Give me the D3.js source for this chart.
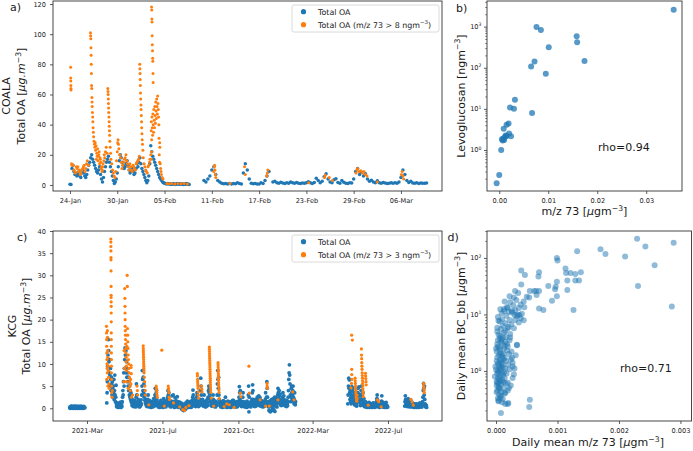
<!DOCTYPE html>
<html><head><meta charset="utf-8">
<script src="https://cdn.jsdelivr.net/npm/d3@7/dist/d3.min.js"></script>
<style>body{margin:0;background:#fff}svg{display:block}</style>
</head><body><svg id="chart" width="693" height="451"></svg>
<script>
// ---------------- DATA ----------------
// Panel a (COALA): Total OA, segments with start time and step (hours)
const coalaOA1 = [ // from 2020-01-24 00:00, every 3 h
0.5,0.3,11,13,9,7,8,6, 7,9,6,5,8,10,8,6, 5,7,10,13,15,18,20,17, 15,13,11,9,8,10,12,7,
4,2,5,9,12,15,17,19, 15,12,9,6,3,1,2,4, 8,12,16,20,18,15,13,11, 12,14,16,13,10,8,9,11,
9,7,8,11,14,12,15,18, 14,11,9,7,5,3,1.5,3, 6,14,26,22,19,17,15,13, 11,9,7,5,4,3,2,1.5,
1.2,0.9,0.7,1.0,0.6,0.8,0.5,0.7, 0.4,0.8,0.6,0.3,0.7,0.9,0.5,0.6, 0.8,0.4,0.6,0.3,0.7,0.5,0.9,0.4, 0.6,0.3];
const coalaOA2 = [ // from 2020-02-10 00:00, every 6 h
3,2,4,6, 10,12,7,3, 2,1.2,0.8,1, 0.7,0.9,0.6,1, 0.8,1.5,0.9,0.7, 8,14,10,4, 1.2,0.8,1,0.7, 0.6,1.5,0.9,3, 6,9];
const coalaOA3 = [ // from 2020-02-18 18:00, every 6 h
2, 2.5,1.5,1.2,1.8, 1.3,1.0,1.5,1.2, 2.0,1.4,1.1,1.6, 1.2,0.9,1.3,1.1, 1.5,2.2,1.4,1.0,
1.6,4.5,3.0,1.5, 2.5,5.5,7.5,4.0, 2.0,1.4,3.5,4.2, 1.6,1.2,3.0,1.8, 1.2,1.0,1.5,1.3,
4.0,9.0,11.0,7.0, 8.5,6.0,7.5,4.0, 2.5,3.2,2.0,1.5, 2.8,1.4,1.2,1.6, 1.3,1.0,1.2,1.4,
1.1,1.5,1.2,2.0, 5.0,10.0,7.0,3.0, 1.6,2.5,1.3,1.1, 1.4,1.0,1.3,1.2, 1.1,1.3];
const coalaBase = "2020-01-24";
// [days after 2020-01-24, Total OA] where m/z 73 > 8 ngm-3
const coalaHigh = [
[0.08,78],[0.09,71],[0.1,69],[0.11,66],[0.12,64],[0.13,63],[0.2,14],[0.25,13],
[0.4,13],[0.5,10],[0.6,9],[0.7,8],[0.8,12],[0.9,11],[1.0,12],[1.1,9],[1.2,10],[1.3,7],[1.4,8],[1.5,10],[1.6,11],[1.7,12],[1.8,13],[1.9,9],[2.0,11],[2.1,14],[2.2,16],[2.35,13],
[2.6,101],[2.62,99],[2.64,97],[2.66,91],[2.68,86],[2.7,80],[2.72,74],[2.74,66],[2.76,64],[2.78,58],[2.8,55],[2.82,52],[2.85,48],[2.88,45],[2.9,42],[2.93,38],[2.96,35],[3.0,32],[3.05,29],[3.1,27],[3.15,25],[3.2,28],[3.25,23],[3.3,26],[3.35,17],[3.4,21],[3.45,19],[3.5,24],[3.55,16],[3.6,19],[3.65,20],[3.7,22],[3.75,14],[3.8,18],[3.85,17],[3.9,15],[3.95,11],[4.0,12],[4.05,9],[4.1,10],[4.15,12],[4.2,14],
[4.3,16],[4.35,20],[4.4,18],[4.5,22],[4.6,25],[4.7,21],
[4.8,64],[4.82,62],[4.84,60],[4.86,57],[4.88,54],[4.9,51],[4.92,48],[4.94,45],[4.96,42],[4.98,39],[5.0,36],[5.03,33],[5.06,29],[5.1,25],[5.15,21],[5.2,17],[5.3,14],[5.4,10],[5.5,8],[5.6,6],[5.7,5],[5.8,9],
[5.9,16],[6.0,22],[6.05,28],[6.1,30],[6.15,27],[6.2,24],[6.3,20],[6.4,18],[6.5,15],
[6.6,11],[6.7,13],[6.8,15],[6.9,17],[7.0,18],[7.1,20],[7.2,16],[7.3,14],[7.4,12],[7.5,10],[7.6,14],[7.7,12],[7.8,10],[7.9,9],[8.0,13],[8.1,12],[8.2,11],[8.3,10],[8.4,14],[8.5,15],[8.6,16],[8.7,17],[8.8,19],
[8.85,80],[8.87,77],[8.89,74],[8.91,70],[8.93,66],[8.95,61],[8.97,57],[9.0,53],[9.02,50],[9.05,46],[9.08,42],[9.1,38],[9.13,34],[9.16,30],[9.2,27],[9.25,23],[9.3,18],[9.4,14],[9.5,12],
[9.6,10],[9.7,9],[9.8,8],[9.9,12],[10.0,13],[10.1,15],[10.15,17],
[10.25,20],[10.28,17],[10.3,36],[10.32,42],[10.34,22],[10.35,118],[10.36,30],[10.37,116],[10.39,110],[10.4,45],[10.41,108],[10.43,99],[10.44,38],[10.45,93],[10.47,89],[10.48,33],[10.49,84],[10.51,82],[10.52,47],[10.53,74],[10.55,68],[10.56,40],[10.6,35],[10.64,50],[10.68,43],[10.72,38],[10.76,52],[10.8,46],[10.84,41],[10.88,55],[10.92,49],[10.96,44],[11.0,57],[11.04,52],[11.08,47],[11.12,59],[11.16,54],[11.2,50],[11.24,45],[11.28,40],[11.3,31],[11.33,20],[11.36,15],[11.38,28],[11.4,25],
[11.45,14],[11.5,11],[11.55,9],[11.6,7],[11.7,5],[11.8,4],
[12.3,1],[12.6,0.8],[12.9,1],[13.3,0.7],[13.7,0.9],[14.1,0.8],[14.5,1],[14.9,0.7],
[18.25,9],[18.3,12],[18.35,13],[18.4,10],[18.45,7],[18.5,5],[20.3,1],[22.15,12],[22.25,7],[24.95,6],[25.05,8],[25.1,10],[30.3,1.5],[32.3,5],[32.4,6.5],[32.9,5],[33.3,3],
[36.3,8],[36.4,10],[36.5,11],[36.7,9],[36.9,9.5],[37.1,8],[37.3,9],[37.5,7],[37.7,6],[39.0,2],[42.05,7],[42.15,9],[42.25,6],[42.35,4]];
const coalaTicks = ["2020-01-24","2020-01-30","2020-02-05","2020-02-11","2020-02-17","2020-02-23","2020-02-29","2020-03-06"];

// Panel b: m/z 73 vs levoglucosan
const levoM73 = [-0.00053,0.0,0.0004,0.00055,0.0008,0.001,0.0012,0.0015,0.0009,0.0015,0.0019,0.002,0.0024,0.0022,0.003,0.0032,0.0067,0.0065,0.0072,0.0095,0.0076,0.0085,0.0101,0.0158,0.0159,0.0174,0.0356,0.0007,0.0013];
const levoglucosan = [0.155,0.245,1.0,1.82,1.89,1.75,2.1,2.2,3.3,4.1,4.4,2.5,2.15,10.8,10,16.6,7.9,107,142,71,980,830,314,580,415,146,2570,1.69,2.25];

// Panel c (KCG): Total OA, every 12 h
const kcgOA1 = [ // from 2021-02-01
0.1,0.3,0.0,0.2,0.4,0.1,0.5,0.2,0.0,0.3, 0.1,0.4,0.2,0.0,0.3,0.5,0.1,0.2,0.4,0.0,
0.2,0.3,0.1,0.5,0.2,0.0,0.3,0.1,0.4,0.2, 0.1,0.3,0.0,0.2,0.5,0.1,0.3,0.2,0.0,0.4,
0.1,0.2,0.3,0.0,0.2,0.4,0.1,0.3,0.2,0.1];
const kcgOA2 = [ // from 2021-04-02
1.2,3.5,6.0,9.5,12.0,15.5,13.0,10.5,8.0,11.0, 7.5,5.0,9.0,6.5,4.0,7.0,5.5,3.0,6.0,4.5,
2.5,5.0,3.5,6.5,2.0,4.0,7.5,3.0,1.5,2.5, 5.2,1.0,0.4,0.8,0.3,1.2,0.5,0.9,0.2,0.7,
0.4,1.1,0.3,0.6,1.4,0.5,0.2,0.8,1.0,0.4, 1.5,2.5,4.0,3.0,6.0,8.0,5.0,9.0,11.0,13.6,
12.0,9.0,13.0,8.0,10.5,7.0,9.0,6.0,8.0,5.0, 7.0,4.0,6.0,3.0,5.0,2.5,4.0,2.0,3.5,1.5,
3.0,1.2,0.6,2.0,0.8,1.5,0.4,1.0,0.7,1.3, 0.5,1.8,0.9,0.3,1.1,2.5,5.5,3.0,1.2,0.6,
1.4,0.8,2.0,0.5,1.0,0.3,1.6,0.9,0.4,1.2, 0.7,1.9,1.0,3.0,5.0,8.5,6.5,4.0,7.0,3.5,
5.5,2.5,4.0,1.8,3.0,1.2,2.0,0.8,1.5,0.5, 1.0,0.4,1.3,2.0,3.0,1.1,0.6,1.4,0.3,0.9,
1.7,0.5,1.0,0.2,1.2,0.7,0.4,1.5,0.9,0.3, 1.1,0.6,2.2,1.0,0.5,1.6,3.0,4.5,2.5,1.2,
3.5,4.0,2.0,0.8,1.4,0.5,1.0,0.3,0.8,1.2, 0.6,0.2,1.5,0.4,0.9,1.8,0.5,1.1,0.7,0.3,
1.3,0.6,0.2,1.0,2.2,0.8,0.4,1.6,0.9,0.5, 1.2,0.3,0.8,1.5,0.6,1.9,1.0,2.5,4.0,3.0,
2.0,3.5,1.2,0.6,1.4,0.4,1.0,0.8,0.3,1.6, 0.7,2.8,1.2,0.5,1.0,3.0,1.5,0.6,1.1,0.2,
0.9,2.4,1.3,0.5,1.7,0.8,0.3,1.2,2.6,1.0, 0.4,1.5,0.8,0.2,1.1,0.6,1.4,0.3,0.9,0.5,
1.2,0.1,0.7,-0.2,0.4,1.0,-0.4,0.3,0.8,-0.5, 0.2,-0.3,0.6,0.1,1.0,-0.2,0.5,1.3,0.3,0.8,
0.5,1.6,0.4,1.0,0.2,1.3,0.7,0.3,1.1,0.6, 1.5,0.4,0.9,0.2,1.2,0.6,1.8,0.5,2.5,4.1,
3.0,1.5,2.0,0.8,1.2,0.5,1.6,0.9,0.4,1.0, 1.8,2.5,3.5,3.0,1.5,0.7,1.2,0.4,0.9,1.5,
0.6,1.0,2.0,4.0,6.8,5.0,3.0,1.6,0.8,1.2, 2.0,0.9,0.5,1.4,0.7,3.0,1.5,0.6,1.1,0.3,
0.9,1.6,0.4,1.2,0.7,2.0,1.3,0.6,2.5,4.0, 5.0,3.5,4.5,2.5,3.0,1.5,2.0,0.8,1.4,0.5,
1.0,1.8,0.6,1.2,3.0,2.0,0.9,1.4,0.4,1.1, 0.7,1.6,0.3,1.0,1.5,0.6,1.2,3.0,5.5,8.5,
6.5,4.5,7.0,3.0,2.0,1.2,0.6,1.5,0.8,0.3, 1.1,0.5,1.4,0.9,0.2,1.2,0.6,1.7,0.4,1.0,
0.7,1.5,0.3,0.9,2.5,1.2,0.5,1.3,0.8,0.2, 1.0,0.6,1.6,0.4,1.2,0.7,0.3,1.4,0.9,0.5,
1.3,0.2,0.8,1.5,0.6,1.1,0.4,1.8,0.9,0.5, 1.8,1.2,0.6,1.0,0.3,1.4,0.8,0.5,1.2,0.7,
0.3,1.5,0.9,0.4,1.1,0.6,1.6,0.8,2.5,4.9, 3.5,2.0,4.0,1.5,0.9,1.3,0.4,1.0,0.7,1.5,
2.5,3.5,1.5,0.8,0.4,1.2,0.6,1.0,0.3,1.4, 0.8,0.5,1.1,0.2,1.6,0.7,1.0,0.4,3.0,5.0,
-0.8,2.5,1.2,0.6,1.4,0.9,0.3,1.1,0.7,1.6, 2.0,3.5,5.3,4.0,2.0,1.0,0.5,1.3,0.8,0.4,
1.2,0.7,1.9,0.5,1.0,2.0,1.4,2.5,0.8,1.6, 2.2,1.0,2.8,1.5,0.6,1.8,2.4,1.1,0.5,1.3,
0.9,1.7,0.4,1.2,0.7,1.5,0.3,1.0,0.6,1.4, 0.8,1.3,0.5,2.0,3.5,1.5,0.9,2.5,6.0,4.5,
2.5,1.2,0.6,1.5,0.3,-0.5,1.0,0.4,1.6,-0.8, 0.5,1.8,-0.6,1.2,2.0,0.2,1.5,-0.4,0.8,2.2,
-0.3,1.4,0.6,2.5,-0.7,1.0,1.8,0.4,2.4,0.9, 1.5,0.3,2.0,3.0,4.5,3.5,2.2,1.2,4.0,2.8,
1.6,3.2,0.8,1.4,2.0,0.6,1.2,0.9,1.7,2.5, 3.5,2.0,1.0,2.8,1.4,0.7,1.9,1.1,0.5,1.5,
0.8,1.2,0.4,1.8,1.0,0.6,1.5,2.5,4.0,6.5, 8.0,9.8,7.5,5.5,3.0,1.5,2.5,4.5,5.0,3.5,
2.0,3.0,4.0,5.0,2.5,1.5,1.0,2.0,3.5,1.2,0.8,1.5];
const kcgOA3 = [ // from 2022-04-27
1.0,3.0,5.0,6.8,4.5,6.4,3.5,2.0,4.0,1.5,2.5,1.0,
3.0,4.9,2.5,3.8,1.5,4.5,2.0,3.0,1.2,2.5,0.8,1.8,3.5,1.0,0.6,2.2,
1.0,0.5,1.5,2.5,3.5,4.5,3.0,2.0,4.8,3.2,1.5,2.8,1.0,0.6,
2.0,4.0,5.0,3.0,1.8,2.6,1.0,3.5,1.4,0.6,2.2,1.2,0.4,1.0,
0.6,1.5,0.3,0.8,1.2,0.4,0.9,0.2,1.1,0.5,0.3,0.8,0.5,1.3,0.2,0.7,1.0,0.4,0.6,0.3,
0.9,0.2,0.6,1.1,0.4,0.7,0.3,1.2,0.5,0.8,0.2,0.6,1.0,0.4,0.7,0.3,0.9,1.5,2.2,3.0,
2.0,1.2,0.6,1.0,0.3,0.8,0.5,0.2,0.7,0.4,1.1,0.3,0.6,1.6,2.8,1.5,0.8,0.4,0.9,0.3,
0.6,1.2,0.5,0.2,0.9,0.4,0.7,0.3,1.3,0.5,0.2,0.6,0.4,0.3];
const kcgOA4 = [ // from 2022-07-28
0.5,1.5,2.8,2.0,1.0,0.6,1.8,0.9,0.4,1.2,0.7,2.2,
1.0,0.5,1.6,0.8,0.3,1.2,0.6,1.9,0.4,1.0,0.7,1.4,0.3,0.8,0.5,1.1,
0.4,0.9,0.2,0.7,1.0,0.3,0.6,0.9,0.4,0.7,0.2,1.0,0.5,0.3,0.8,0.4,
0.6,0.2,0.9,0.4,0.7,1.2,0.5,0.3,0.8,0.4,0.6,1.0,0.3,0.7,1.5,2.5,
4.0,5.6,4.5,3.0,5.0,2.0,1.0,0.4,0.8,0.3,0.6,0.2];
const kcgBase = "2021-03-01";
// [days after 2021-03-01, Total OA] where m/z 73 > 3 ngm-3
const kcgHigh = [
[31.5,18.5],[31.6,17.0],[31.7,15.5],[31.8,14.0],[31.9,6.5],[32.0,12.5],[32.2,11.0],[32.4,10.0],[32.6,9.0],[32.8,8.0],[33.0,17.5],[33.2,16.0],[33.4,13.0],[33.6,11.5],[33.8,5.0],[34.0,9.5],[34.5,8.5],[35.0,7.0],[35.5,5.5],[36.0,4.5],
[38.6,38.2],[38.65,37.5],[38.7,36.5],[38.75,35.5],[38.8,34.0],[38.85,33.5],[38.9,31.0],[38.95,27.5],[39.0,25.5],[39.05,25.0],[39.1,24.0],[39.15,23.0],[39.2,21.5],[39.25,19.5],[39.3,17.0],[39.35,15.5],[39.4,14.0],[39.45,12.5],[39.5,11.0],[39.55,9.5],[39.6,8.0],[39.7,6.5],[39.8,5.0],[40.0,3.5],[40.5,2.5],[41.0,4.0],
[59.5,6.0],[60.0,13.0],[60.5,9.0],[61.0,27.0],[61.3,24.8],[61.5,23.0],[61.6,21.5],[61.7,20.0],[61.8,18.5],[62.0,17.5],[62.2,16.5],[62.4,15.5],[62.6,14.5],[62.8,13.5],[63.0,12.5],[63.2,11.5],[63.4,10.5],[63.6,9.5],[63.8,6.0],[64.0,8.5],[64.5,14.0],[65.0,30.0],[65.3,27.5],[65.5,18.0],[65.8,16.5],[66.0,15.0],[66.3,13.5],[66.6,12.0],[66.8,4.5],[67.0,11.0],[67.4,10.0],[67.8,9.0],[68.2,8.0],[68.6,7.0],[69.0,6.0],[69.5,5.0],[70.0,4.0],[70.5,6.5],[71.0,5.5],[71.2,9.7],[71.3,9.2],[71.6,7.8],[72.0,2.5],[73.8,3.0],
[81.0,5.0],[81.5,4.0],[82.0,3.0],
[91.0,14.1],[91.1,13.5],[91.2,13.0],[91.3,12.5],[91.4,12.0],[91.5,11.5],[91.6,11.0],[91.7,10.5],[91.8,10.0],[91.9,9.5],[92.0,9.0],[92.2,8.5],[92.4,8.0],[92.8,7.0],[93.2,6.0],[93.6,5.0],[94.0,4.0],[94.5,3.0],
[100.0,0.8],[112.0,5.0],[112.3,4.5],[112.6,4.0],[113.0,3.5],[113.4,3.0],[113.8,2.5],[121.0,13.1],[125.0,0.5],[131.5,5.0],[131.8,4.5],[132.1,4.0],[132.5,3.5],[133.0,2.5],[133.5,2.0],[140.0,1.2],[150.0,0.3],[155.0,-0.3],[158.0,-0.5],[160.0,0.2],[165.0,0.6],
[178.5,7.8],[178.7,7.3],[178.9,6.5],[179.1,6.0],[179.3,5.5],[179.5,5.0],[179.7,4.5],[179.9,3.7],[180.2,3.0],[180.5,2.3],[185.5,5.0],[185.8,4.3],[186.1,3.7],
[198.0,13.8],[198.1,13.3],[198.2,12.8],[198.3,12.3],[198.4,11.8],[198.5,11.3],[198.6,10.8],[198.7,10.3],[198.8,9.8],[198.9,9.3],[199.0,8.8],[199.1,8.3],[199.2,7.8],[199.3,7.3],[199.4,6.8],[199.5,6.3],[199.6,5.8],[199.7,5.3],[199.8,4.8],[200.0,4.2],[200.2,3.6],[201.0,2.3],[205.0,0.5],
[212.0,10.3],[212.1,9.8],[212.2,9.3],[212.3,8.8],[212.4,8.3],[212.5,7.8],[212.6,7.3],[212.7,6.8],[212.8,6.3],[212.9,5.8],[213.0,5.3],[213.2,4.8],[213.4,4.2],[213.6,3.6],[214.0,2.2],
[222.0,0.4],[226.0,1.0],[230.0,0.8],[238.0,0.2],[248.0,3.4],[249.0,2.6],[262.0,9.5],[262.5,3.4],[280.0,1.9],[289.0,0.5],[291.2,5.6],[291.5,5.0],[291.8,4.5],[295.0,0.5],[309.0,1.9],[333.0,3.7],[335.0,1.9],
[427.1,4.6],[428.0,5.6],[428.2,16.5],[428.3,8.8],[428.4,7.6],[428.6,6.5],[429.3,15.4],
[433.8,6.8],[434.0,6.2],[434.2,5.6],[434.4,5.0],[434.6,4.5],[434.8,4.0],[435.0,3.5],[435.3,3.0],[435.6,2.5],[436.0,2.0],[436.5,1.6],[437.0,3.0],[437.3,2.2],
[444.0,13.4],[444.2,12.0],[444.4,11.2],[444.6,10.3],[444.8,9.5],[445.0,8.8],[445.2,8.0],[445.4,7.4],[445.6,6.8],[445.8,6.2],[446.0,5.6],[446.2,5.0],[446.4,4.4],[446.6,3.8],[446.8,3.2],[447.0,2.6],
[450.5,7.9],[450.8,7.3],[451.1,6.7],[451.4,6.0],[451.7,5.3],[455.0,0.7],[470.0,1.9],[472.0,1.5],[476.0,0.3],
[524.0,2.0],[526.0,1.4],[528.0,0.7],[544.5,5.6],[544.8,5.0],[545.1,4.5],[545.4,4.0],[545.7,3.5]];
const kcgTickDates = ["2021-03-01","2021-07-01","2021-11-01","2022-03-01","2022-07-01"];
const kcgTickLabels = ["2021-Mar","2021-Jul","2021-Oct","2022-Mar","2022-Jul"];

// Panel d: daily mean m/z 73 vs daily mean BC_bb
const dailyM73 = [
0.002295,0.00289,0.00243,0.0017,0.00178,0.0021,0.00132,0.00099,0.001,0.00258,0.00113,0.00114,0.00121,0.00129,0.00138,0.00116,0.00129,0.00135,0.00116,0.00126,0.00231,0.00286,
0.00099,0.00097,0.00096,0.00099,0.00091,0.00085,0.0007,0.0007,0.00069,0.0007,0.00077,0.00066,0.00065,0.00062,0.00055,0.00054,0.0005,0.00047,0.00041,0.00041,0.00045,0.00046,0.00055,0.00054,
0.00031,0.00036,0.00029,0.00022,0.00014,0.00023,0.00018,0.00007,0.00013,0.00021,0.00026,0.00031,0.00034,0.0004,0.00042,0.00045,0.00037,0.00025,0.00029,0.00019,0.0001,0.00004,0.00002,0.00015,
0.00023,0.00034,0.00026,0.00027,0.00022,0.00029,0.00019,0.00021,0.00015,0.00011,0.00019,0.00008,0.0002,0.00015,0.00004,0.00034,0.00032,0.0003,0.00027,0.00024,0.00031,0.00038,
0.00002,0.00004,0.00006,0.00003,0.00008,0.00001,0.00005,0.00007,0.00002,0.00009,0.00004,0.00012,0.0001,0.00013,0.00011,0.00014,0.00006,0.00003,0.00008,0.00005,0.00009,0.00001,0.00007,0.00003,
0.00011,0.00002,0.00006,0.00004,0.00009,0.0,-0.00002,-0.00001,0.00015,0.00017,0.00016,0.00012,0.00018,0.00014,0.0001,0.00006,0.00016,0.00002,0.00008,0.00013,0.00004,0.00007,0.0001,0.00001,
0.00005,0.00008,0.00012,0.00003,0.00007,0.0001,0.00001,0.00005,0.00009,0.00013,0.00002,0.00006,0.00004,0.00008,0.00011,0.00014,0.00016,0.00019,0.0002,0.00021,0.00018,0.00022,0.00025,0.00024,
0.00027,0.00023,0.0002,0.00015,0.00011,0.00006,0.00003,0.00009,0.00017,0.00022,0.00013,0.00019,0.00026,0.0003,0.00028,0.00033,0.00037,0.0004,0.00035,0.00005,0.00002,0.00009,0.00012,0.0,
0.00003,0.00007,0.00011,0.00015,0.00019,0.00001,0.00004,0.00006,0.00014,0.00008,0.00003];
const dailyBC = [
218,186,159,142,117,106,131,100,90,74,65,54,54,52,56,40,40,40,27,12,32,13.8,
38,31,28,21,17.5,32,26,56,47,12.8,12,22,26,26,26,20,20.6,50,60,34,17,13.4,0.31,0.23,
26,24,20,21,17,16.4,13.5,12.3,11.5,11.2,10.8,11.9,9.4,8.6,10.3,7.9,7.2,6.7,5.7,5.7,8.2,7.7,5.8,5.1,
3.9,2.85,1.72,1.4,1.07,0.87,0.62,0.5,0.41,0.32,0.26,0.18,0.27,0.26,0.29,2.9,1.9,1.1,0.75,0.55,8.0,9.8,
0.45,0.6,0.8,1.0,1.2,1.5,1.9,2.4,3.0,3.6,4.4,0.5,0.7,0.95,1.3,1.7,2.1,2.7,3.3,0.38,0.42,0.55,0.66,0.75,
0.85,0.9,1.1,1.25,1.4,1.05,0.8,1.2,1.1,0.9,1.5,2.0,2.3,2.8,3.1,3.8,4.0,5.0,5.5,4.8,0.3,0.34,0.28,0.65,
0.72,0.58,0.63,1.35,1.6,1.8,2.2,2.6,2.0,2.5,1.75,1.45,0.95,1.05,1.15,0.75,0.6,0.45,1.3,2.0,3.0,3.5,2.2,1.6,
1.2,4.5,6.0,7.0,6.3,7.5,9.0,10.5,9.5,8.0,12.5,13.0,11.5,9.8,14.5,18.0,13.0,15.0,10.0,0.5,0.62,0.9,1.6,2.5,
3.5,4.2,3.9,3.3,2.7,0.42,0.52,0.48,0.4,0.36,0.33];

// ---------------- DRAWING ----------------
const BLUE = "#1f77b4", ORANGE = "#ff7f0e";
const FONT = "'DejaVu Sans', sans-serif";
const TICK_FS = 6.6, LAB_FS = 11, LEG_FS = 7.9;
const svg = d3.select("#chart");
svg.append("rect").attr("width",693).attr("height",451).attr("fill","#fff");

const DAY = 864e5;
const utc = s => new Date(s + (s.length === 10 ? "T00:00:00Z" : "Z"));
function seriesFrom(values, start, stepHours) {
  const t0 = utc(start).getTime();
  return values.map((v, i) => ({t: new Date(t0 + i * stepHours * 3600e3), v}));
}
function pairsFrom(pairs, base) {
  const t0 = utc(base).getTime();
  return pairs.map(p => ({t: new Date(t0 + p[0] * DAY), v: p[1]}));
}

function richText(g, x, y, parts, fs, opts = {}) {
  const t = g.append("text").attr("x", x).attr("y", y).attr("font-size", fs)
    .attr("font-family", FONT).attr("fill", "#1a1a1a");
  if (opts.anchor) t.attr("text-anchor", opts.anchor);
  if (opts.rotate) t.attr("transform", `rotate(-90,${x},${y})`);
  let shifted = false;
  parts.forEach(p => {
    const s = t.append("tspan").text(p.t);
    if (p.sup) { s.attr("dy", -0.4 * fs).attr("font-size", fs * 0.7); shifted = true; }
    else if (shifted) { s.attr("dy", 0.4 * fs); shifted = false; }
    if (p.it) s.attr("font-style", "italic");
  });
  return t;
}
function styleAxis(g) {
  g.select(".domain").remove();
  g.selectAll("line").attr("stroke", "#333").attr("stroke-width", 0.8);
  g.selectAll("text").attr("font-size", TICK_FS).attr("font-family", FONT).attr("fill", "#1a1a1a");
}
function frame(p) {
  svg.append("rect").attr("x", p.x0).attr("y", p.y0).attr("width", p.x1 - p.x0).attr("height", p.y1 - p.y0)
    .attr("fill", "none").attr("stroke", "#333").attr("stroke-width", 0.9);
}
function xAxis(scale, y, ticks, fmt) {
  const g = svg.append("g").attr("transform", `translate(0,${y})`)
    .call(d3.axisBottom(scale).tickValues(ticks).tickFormat(fmt).tickSize(3).tickPadding(4));
  styleAxis(g); return g;
}
function yAxis(scale, x, ticks, fmt) {
  const g = svg.append("g").attr("transform", `translate(${x},0)`)
    .call(d3.axisLeft(scale).tickValues(ticks).tickFormat(fmt).tickSize(3).tickPadding(4));
  styleAxis(g); return g;
}
function logYAxis(scale, x, majors, minors) {
  const g = svg.append("g").attr("transform", `translate(${x},0)`)
    .call(d3.axisLeft(scale).tickValues(majors).tickFormat("").tickSize(3));
  styleAxis(g);
  const gm = svg.append("g").attr("transform", `translate(${x},0)`)
    .call(d3.axisLeft(scale).tickValues(minors).tickFormat("").tickSize(1.8));
  styleAxis(gm); gm.selectAll("line").attr("stroke-width", 0.6);
  majors.forEach(v => {
    richText(svg, x - 5.5, scale(v) + 0.35 * TICK_FS,
      [{t: "10"}, {t: String(Math.round(Math.log10(v))), sup: true}], TICK_FS, {anchor: "end"});
  });
}
function dots(data, xs, ys, xk, yk, color, r, op) {
  svg.append("g").selectAll("circle").data(data).join("circle")
    .attr("cx", d => xs(d[xk])).attr("cy", d => ys(d[yk])).attr("r", r)
    .attr("fill", color).attr("fill-opacity", op);
}
function legend(x, y, label) {
  const g = svg.append("g");
  g.append("rect").attr("x", x).attr("y", y).attr("width", 147).attr("height", 27).attr("rx", 2)
    .attr("fill", "#fff").attr("fill-opacity", 0.85).attr("stroke", "#d0d0d0").attr("stroke-width", 0.8);
  g.append("circle").attr("cx", x + 11.5).attr("cy", y + 6.7).attr("r", 2.6).attr("fill", BLUE);
  g.append("circle").attr("cx", x + 11.5).attr("cy", y + 19.7).attr("r", 2.6).attr("fill", ORANGE);
  richText(g, x + 26, y + 9.6, [{t: "Total OA"}], LEG_FS);
  richText(g, x + 26, y + 22.6, [{t: "Total OA (m/z 73 > " + label + " ngm"}, {t: "\u22123", sup: true}, {t: ")"}], LEG_FS);
}

// ----- Panel a -----
const PA = {x0: 53, x1: 442, y0: 1, y1: 191};
const xA = d3.scaleUtc().domain([utc("2020-01-21T20:14:00"), utc("2020-03-11T05:00:00")]).range([PA.x0, PA.x1]);
const yA = d3.scaleLinear().domain([-4, 122]).range([PA.y1, PA.y0]);
const coalaAll = [].concat(seriesFrom(coalaOA1, "2020-01-24", 3), seriesFrom(coalaOA2, "2020-02-10", 6),
  seriesFrom(coalaOA3, "2020-02-18T18:00:00", 6));
dots(coalaAll, xA, yA, "t", "v", BLUE, 1.75, 1);
dots(pairsFrom(coalaHigh, coalaBase), xA, yA, "t", "v", ORANGE, 1.5, 1);
xAxis(xA, PA.y1, coalaTicks.map(utc), d3.utcFormat("%d-%b"));
yAxis(yA, PA.x0, [0, 20, 40, 60, 80, 100, 120], d3.format("d"));
frame(PA);
legend(292, 5, "8");
richText(svg, 10, 10.5, [{t: "a)"}], LAB_FS);
richText(svg, 10, 96, [{t: "COALA"}], LAB_FS, {anchor: "middle", rotate: true});
richText(svg, 25, 96, [{t: "Total OA ["}, {t: "\u00b5g.m", it: true}, {t: "\u22123", sup: true}, {t: "]"}], LAB_FS, {anchor: "middle", rotate: true});

// ----- Panel b -----
const PB = {x0: 487, x1: 682, y0: 1, y1: 191};
const xB = d3.scaleLinear().domain([-0.0025, 0.0373]).range([PB.x0, PB.x1]);
const yB = d3.scaleLog().domain([0.1005, 4200]).range([PB.y1, PB.y0]);
const levoData = levoM73.map((m, i) => ({m, l: levoglucosan[i]}));
dots(levoData, xB, yB, "m", "l", BLUE, 3, 0.75);
xAxis(xB, PB.y1, [0, 0.01, 0.02, 0.03], d3.format(".2f"));
logYAxis(yB, PB.x0, [1, 10, 100, 1000], [0.2,0.3,0.4,0.5,0.6,0.7,0.8,0.9,2,3,4,5,6,7,8,9,20,30,40,50,60,70,80,90,200,300,400,500,600,700,800,900,2000,3000,4000]);
frame(PB);
richText(svg, 456, 11.5, [{t: "b)"}], LAB_FS);
richText(svg, 464.5, 96, [{t: "Levoglucosan [ngm"}, {t: "\u22123", sup: true}, {t: "]"}], LAB_FS, {anchor: "middle", rotate: true});
richText(svg, 584.5, 215, [{t: "m/z 73 ["}, {t: "\u00b5", it: true}, {t: "gm"}, {t: "\u22123", sup: true}, {t: "]"}], LAB_FS, {anchor: "middle"});
richText(svg, 598, 151, [{t: "rho=0.94"}], LAB_FS);

// ----- Panel c -----
const PC = {x0: 53, x1: 442, y0: 231, y1: 421};
const xC = d3.scaleUtc().domain([utc("2021-01-05"), utc("2022-09-26T09:00:00")]).range([PC.x0, PC.x1]);
const yC = d3.scaleLinear().domain([-2.87, 40]).range([PC.y1, PC.y0]);
const kcgAll = [].concat(seriesFrom(kcgOA1, "2021-02-01", 12), seriesFrom(kcgOA2, "2021-04-02", 12),
  seriesFrom(kcgOA3, "2022-04-27", 12), seriesFrom(kcgOA4, "2022-07-28", 12));
dots(kcgAll, xC, yC, "t", "v", BLUE, 1.9, 1);
dots(pairsFrom(kcgHigh, kcgBase), xC, yC, "t", "v", ORANGE, 1.6, 1);
xAxis(xC, PC.y1, kcgTickDates.map(utc), (d, i) => kcgTickLabels[i]);
yAxis(yC, PC.x0, [0, 5, 10, 15, 20, 25, 30, 35, 40], d3.format("d"));
frame(PC);
legend(292, 235, "3");
richText(svg, 17, 240.5, [{t: "c)"}], LAB_FS);
richText(svg, 15.5, 326, [{t: "KCG"}], LAB_FS, {anchor: "middle", rotate: true});
richText(svg, 30, 326, [{t: "Total OA ["}, {t: "\u00b5g.m", it: true}, {t: "\u22123", sup: true}, {t: "]"}], LAB_FS, {anchor: "middle", rotate: true});

// ----- Panel d -----
const PD = {x0: 487, x1: 691.5, y0: 231, y1: 421};
const xD = d3.scaleLinear().domain([-0.000147, 0.00318]).range([PD.x0, PD.x1]);
const yD = d3.scaleLog().domain([0.13, 300]).range([PD.y1, PD.y0]);
const dailyData = dailyM73.map((m, i) => ({m, b: dailyBC[i]}));
dots(dailyData, xD, yD, "m", "b", BLUE, 3, 0.5);
xAxis(xD, PD.y1, [0, 0.001, 0.002, 0.003], d3.format(".3f"));
logYAxis(yD, PD.x0, [1, 10, 100], [0.2,0.3,0.4,0.5,0.6,0.7,0.8,0.9,2,3,4,5,6,7,8,9,20,30,40,50,60,70,80,90,200,300]);
frame(PD);
richText(svg, 447.5, 240.5, [{t: "d)"}], LAB_FS);
richText(svg, 464.5, 326, [{t: "Daily mean BC_bb ["}, {t: "\u00b5", it: true}, {t: "gm"}, {t: "\u22123", sup: true}, {t: "]"}], LAB_FS, {anchor: "middle", rotate: true});
richText(svg, 588, 446, [{t: "Daily mean m/z 73 ["}, {t: "\u00b5", it: true}, {t: "gm"}, {t: "\u22123", sup: true}, {t: "]"}], LAB_FS, {anchor: "middle"});
richText(svg, 620, 371.5, [{t: "rho=0.71"}], LAB_FS);
</script></body></html>
